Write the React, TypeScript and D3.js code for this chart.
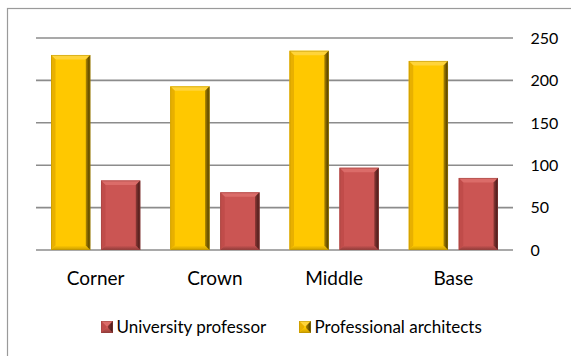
import React from "react";
import * as d3 from "d3";

const categories = ["Corner", "Crown", "Middle", "Base"];
const seriesNames = ["Professional architects", "University professor"];
const professionalArchitects = [230, 193, 235, 223];
const universityProfessor = [82, 68, 97, 85];
const yTicks = [0, 50, 100, 150, 200, 250];
const legendOrder = ["University professor", "Professional architects"];

const W = 571;
const H = 356;
const FONT = "Lato, 'Open Sans', sans-serif";

type Pal = { base: string; top: string; left: string; rightA: string; rightB: string; bottom: string; edge: string };
const palettes: Record<string, Pal> = {
  "Professional architects": {
    base: "#FFC800",
    top: "#FFD43A",
    left: "#E8B000",
    rightA: "#B08800",
    rightB: "#3E3000",
    bottom: "#C89C00",
    edge: "#B89000",
  },
  "University professor": {
    base: "#CB5553",
    top: "#DB6C69",
    left: "#C04C4A",
    rightA: "#8E3936",
    rightB: "#3C1514",
    bottom: "#8E3B39",
    edge: "#9A4240",
  },
};

function BevelRect({ x, y, w, h, b, pal, id }: { x: number; y: number; w: number; h: number; b: number; pal: Pal; id: string }) {
  const bb = Math.min(b, w / 2, h / 2);
  const pts = (a: number[][]) => a.map((p) => p.join(",")).join(" ");
  return (
    <g>
      <defs>
        <linearGradient id={id + "r"} x1="0" x2="1" y1="0" y2="0">
          <stop offset="0" stopColor={pal.rightA} />
          <stop offset="1" stopColor={pal.rightB} />
        </linearGradient>
        <linearGradient id={id + "b"} x1="0" x2="0" y1="0" y2="1">
          <stop offset="0" stopColor={pal.base} />
          <stop offset="1" stopColor={pal.bottom} />
        </linearGradient>
      </defs>
      <rect x={x} y={y} width={w} height={h} fill={pal.base} />
      <polygon points={pts([[x, y], [x + w, y], [x + w - bb, y + bb], [x + bb, y + bb]])} fill={pal.top} />
      <polygon points={pts([[x, y], [x + bb, y + bb], [x + bb, y + h - bb], [x, y + h]])} fill={pal.left} />
      <polygon points={pts([[x, y + h], [x + w, y + h], [x + w - bb, y + h - bb], [x + bb, y + h - bb]])} fill={`url(#${id}b)`} />
      <polygon points={pts([[x + w, y], [x + w, y + h], [x + w - bb, y + h - bb], [x + w - bb, y + bb]])} fill={`url(#${id}r)`} />
      <rect x={x + 0.5} y={y + 0.5} width={w - 1} height={h - 1} fill="none" stroke={pal.edge} strokeWidth={0.8} strokeOpacity={0.6} />
    </g>
  );
}

export default function App() {
  const x = d3.scaleBand<string>().domain(categories).range([36, 513]).paddingInner(0).paddingOuter(0);
  const xs = d3.scaleBand<string>().domain(seriesNames).range([15, x.bandwidth() - 15]).paddingInner(0.214);
  const y = d3.scaleLinear().domain([0, 250]).range([250, 38]);
  const values: Record<string, number[]> = {
    "Professional architects": professionalArchitects,
    "University professor": universityProfessor,
  };
  const legendX: Record<string, number> = { "University professor": 101, "Professional architects": 299 };

  return (
    <svg width={W} height={H} style={{ position: "absolute", left: 0, top: 0, background: "#fff" }} fontFamily={FONT}>
      <rect x={7.5} y={8.5} width={W} height={H} fill="#fff" stroke="#9a9a9a" strokeWidth={1.2} />
      {yTicks.map((t) => (
        <g key={t}>
          <line x1={36} x2={513} y1={y(t)} y2={y(t)} stroke="#8c8c8c" strokeWidth={1.6} />
          <text x={530.5} y={y(t)} dy="0.36em" fontSize={16} fill="#000">
            {t}
          </text>
        </g>
      ))}
      {categories.map((c, i) => (
        <g key={c}>
          {seriesNames.map((s) => {
            const v = values[s][i];
            const bx = (x(c) ?? 0) + (xs(s) ?? 0);
            return (
              <BevelRect
                key={s}
                id={`bar${i}${s[0]}`}
                x={bx}
                y={y(v)}
                w={xs.bandwidth()}
                h={y(0) - y(v)}
                b={4.5}
                pal={palettes[s]}
              />
            );
          })}
          <text x={(x(c) ?? 0) + x.bandwidth() / 2} y={285} textAnchor="middle" fontSize={19} fill="#000">
            {c}
          </text>
        </g>
      ))}
      {legendOrder.map((s) => (
        <g key={s}>
          <BevelRect id={`leg${s[0]}`} x={legendX[s]} y={321} w={12} h={12} b={5} pal={palettes[s]} />
          <text x={legendX[s] + 15.5} y={332.5} fontSize={17} fill="#000">
            {s}
          </text>
        </g>
      ))}
    </svg>
  );
}
